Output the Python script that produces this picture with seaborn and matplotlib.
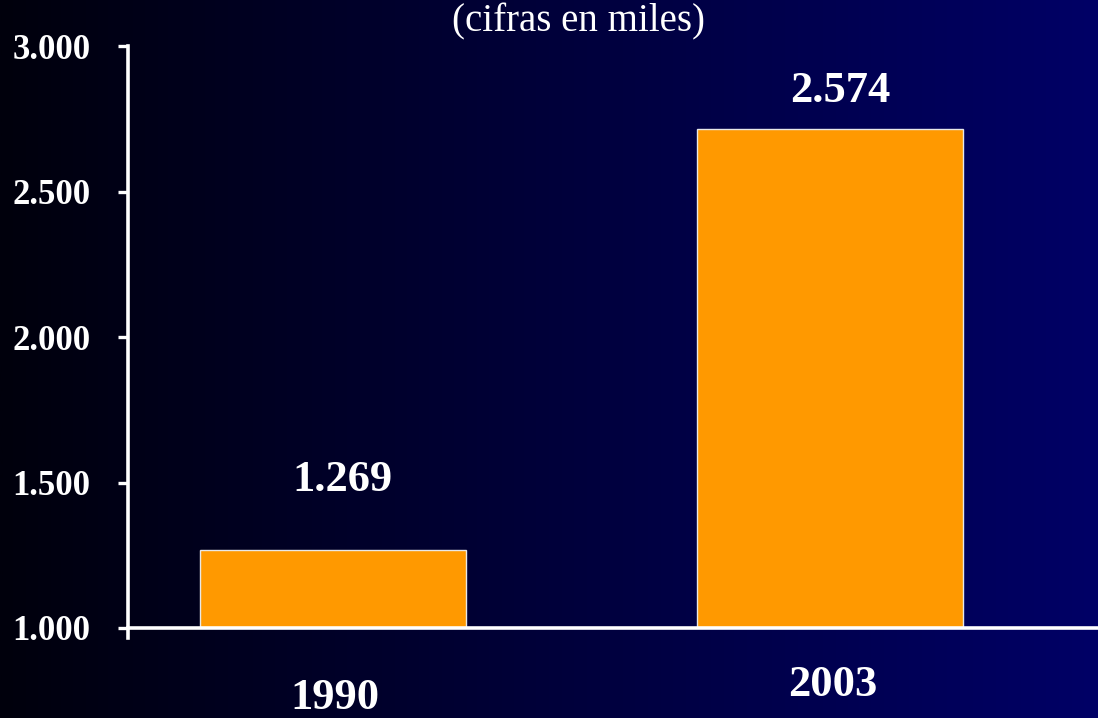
import numpy as np
import pandas as pd
import matplotlib
matplotlib.use('Agg')
import matplotlib.pyplot as plt
import matplotlib.transforms as mtransforms
from matplotlib.colors import LinearSegmentedColormap
import seaborn as sns

# datos
years = ['1990', '2003']
bar_heights = [1269, 2715]          # altura dibujada de cada barra
value_labels = ['1.269', '2.574']   # texto sobre cada barra
y_ticks = [1000, 1500, 2000, 2500, 3000]
y_tick_labels = ['1.000', '1.500', '2.000', '2.500', '3.000']
subtitle = '(cifras en miles)'

# estilo
label_offsets = [36, 13]            # puntos sobre la barra
year_label_y = [0.012, 0.030]       # fraccion de la figura (base del texto)
bar_color = '#FF9900'

sns.set_theme(style='white')
plt.rcParams['font.family'] = ['Liberation Serif', 'DejaVu Serif']

df = pd.DataFrame({'year': years, 'value': bar_heights})

fig = plt.figure(figsize=(10.98, 7.18), dpi=100)

# fondo degradado negro -> azul marino
bg = fig.add_axes([0, 0, 1, 1], zorder=-10)
cmap = LinearSegmentedColormap.from_list('bg', ['#00000C', '#00003A', '#000066'])
grad = np.linspace(0, 1, 512).reshape(1, -1)
bg.imshow(grad, aspect='auto', cmap=cmap, extent=[0, 1, 0, 1])
bg.axis('off')

ax = fig.add_axes([128 / 1098, 1 - 628 / 718, 1 - 128 / 1098, (628 - 46) / 718])
ax.patch.set_alpha(0)

sns.barplot(data=df, x='year', y='value', color=bar_color, saturation=1,
            width=0.535, edgecolor='#E8E8E8', linewidth=1, ax=ax)

ax.set_ylim(1000, 3000)
ax.set_xlim(-0.412, 1.538)
ax.set_yticks(y_ticks)
ax.set_yticklabels(y_tick_labels)
ax.set_xticks([])
ax.set_xlabel('')
ax.set_ylabel('')

for side in ['top', 'right']:
    ax.spines[side].set_visible(False)
for side in ['left', 'bottom']:
    ax.spines[side].set_color('white')
    ax.spines[side].set_linewidth(2.6)
ax.spines['left'].set_bounds(966, 3000)

ax.tick_params(axis='y', direction='out', length=7, width=2.4, color='white',
               labelcolor='white', labelsize=25, pad=20, left=True)
for lbl in ax.get_yticklabels():
    lbl.set_fontweight('bold')

# valores sobre las barras
for i, (h, txt) in enumerate(zip(bar_heights, value_labels)):
    ax.annotate(txt, xy=(i + 0.02, h), xytext=(0, label_offsets[i]),
                textcoords='offset points', ha='center', va='bottom',
                color='white', fontsize=32, fontweight='bold')

# etiquetas de los anos
trans = mtransforms.blended_transform_factory(ax.transData, fig.transFigure)
for i, yr in enumerate(years):
    ax.text(i + 0.005, year_label_y[i], yr, transform=trans, ha='center',
            va='baseline', color='white', fontsize=32, fontweight='bold')

fig.text(578 / 1098, 1 - 22 / 718, subtitle, ha='center', va='center',
         color='white', fontsize=28)

fig.savefig('out.png', dpi=100)
